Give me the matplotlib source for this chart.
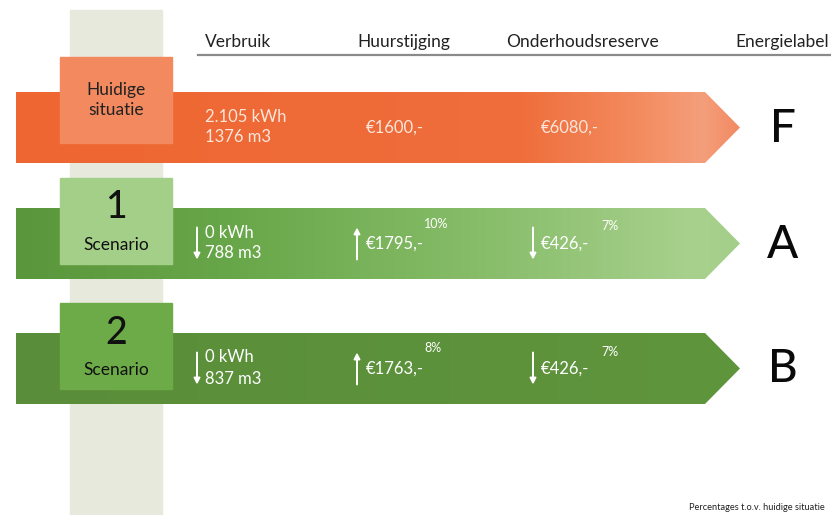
import numpy as np
import matplotlib
matplotlib.use("Agg")
import matplotlib.pyplot as plt
from matplotlib.patches import Polygon, Rectangle
from matplotlib.colors import LinearSegmentedColormap

plt.rcParams['font.family'] = ['Lato', 'DejaVu Sans']

# ---- data ----
row_titles = ["Huidige\nsituatie", "1", "2"]
row_subtitles = ["", "Scenario", "Scenario"]
headers = ["Verbruik", "Huurstijging", "Onderhoudsreserve", "Energielabel"]
verbruik_kwh = ["2.105 kWh", "0 kWh", "0 kWh"]
verbruik_m3 = ["1376 m3", "788 m3", "837 m3"]
huur = ["€1600,-", "€1795,-", "€1763,-"]
huur_pct = ["", "10%", "8%"]
onderhoud = ["€6080,-", "€426,-", "€426,-"]
onderhoud_pct = ["", "7%", "7%"]
energielabel = ["F", "A", "B"]
verbruik_dir = [0, -1, -1]
huur_dir = [0, 1, 1]
onderhoud_dir = [0, -1, -1]
footnote = "Percentages t.o.v. huidige situatie"

# ---- styles / layout ----
W, H = 831, 515
band_tops = [92, 208, 333]
band_h = 71
box_tops = [57, 178, 303]
box_h = 86
box_x0, box_x1 = 60, 172
col_x0, col_x1 = 70, 162
band_x0, shoulder_x, tip_x = 16, 705, 740
box_colors = ["#f2895f", "#a4cf89", "#6cab47"]
band_grads = [
    [(0.0, "#ee6631"), (0.7, "#ef6e3c"), (0.86, "#f38b5f"), (0.95, "#f49f7b"), (1.0, "#f28a63")],
    [(0.0, "#5a963b"), (0.3, "#68a749"), (0.65, "#88bd6a"), (0.94, "#a8d18e"), (1.0, "#a3ce88")],
    [(0.0, "#5a8d39"), (1.0, "#5f953d")],
]
text_colors = ["#fce6da", "white", "white"]
title_sizes = [12.5, 27, 27]

fig = plt.figure(figsize=(W / 100, H / 100), dpi=100)
ax = fig.add_axes([0, 0, 1, 1])
ax.set_xlim(0, W)
ax.set_ylim(H, 0)
ax.axis("off")

# background column
ax.add_patch(Rectangle((col_x0, 10), col_x1 - col_x0, H - 10, color="#e7e9dd", zorder=1))

# headers
header_x = [205, 357, 506, 735]
for hx, ht in zip(header_x, headers):
    ax.text(hx, 42, ht, fontsize=12.5, color="#222222", ha="left", va="center", zorder=5)
ax.plot([198, W], [55, 55], color="#8a8a8a", lw=1.6, zorder=5)

grad = np.linspace(0, 1, 256).reshape(1, -1)
for i in range(3):
    top = band_tops[i]
    bot = top + band_h
    mid = top + band_h / 2
    poly = Polygon([(band_x0, top), (shoulder_x, top), (tip_x, mid),
                    (shoulder_x, bot), (band_x0, bot)], closed=True,
                   facecolor="none", edgecolor="none", zorder=2)
    ax.add_patch(poly)
    cmap = LinearSegmentedColormap.from_list(f"g{i}", band_grads[i])
    im = ax.imshow(grad, cmap=cmap, extent=(band_x0, tip_x, bot, top),
                   aspect="auto", zorder=2, interpolation="bilinear")
    im.set_clip_path(poly)

    # label box
    ax.add_patch(Rectangle((box_x0, box_tops[i]), box_x1 - box_x0, box_h,
                           color=box_colors[i], zorder=3))
    bc = (box_x0 + box_x1) / 2
    if row_subtitles[i]:
        ax.text(bc, box_tops[i] + 30, row_titles[i], fontsize=title_sizes[i],
                ha="center", va="center", color="#111111", zorder=4, fontweight="medium")
        ax.text(bc, box_tops[i] + 67, row_subtitles[i], fontsize=12.5,
                ha="center", va="center", color="#111111", zorder=4)
    else:
        ax.text(bc, box_tops[i] + 43, row_titles[i], fontsize=title_sizes[i],
                ha="center", va="center", color="#222222", zorder=4,
                linespacing=1.25)

    tc = text_colors[i]
    # verbruik
    ax.text(205, mid - 11, verbruik_kwh[i], fontsize=12, color=tc, va="center", zorder=4)
    ax.text(205, mid + 10, verbruik_m3[i], fontsize=12, color=tc, va="center", zorder=4)
    # huur
    ax.text(366, mid, huur[i], fontsize=12, color=tc, va="center", zorder=4)
    if huur_pct[i]:
        ax.text(424, mid - 20, huur_pct[i], fontsize=9, color=tc, va="center", zorder=4)
    # onderhoud
    ax.text(541, mid, onderhoud[i], fontsize=12, color=tc, va="center", zorder=4)
    if onderhoud_pct[i]:
        ax.text(601, mid - 17, onderhoud_pct[i], fontsize=9, color=tc, va="center", zorder=4)

    # direction arrows
    for ax_x, d in ((197, verbruik_dir[i]), (357, huur_dir[i]), (533, onderhoud_dir[i])):
        if d == 0:
            continue
        y_start, y_end = (mid - 16, mid + 16) if d < 0 else (mid + 16, mid - 16)
        ax.annotate("", xy=(ax_x, y_end), xytext=(ax_x, y_start),
                    arrowprops=dict(arrowstyle="-|>,head_length=0.35,head_width=0.18",
                                    color="white", lw=1.4, shrinkA=0, shrinkB=0),
                    zorder=4)

    # energielabel
    ax.text(783, mid + 1, energielabel[i], fontsize=33, ha="center", va="center",
            color="#0a0a0a", zorder=4, fontweight="medium")

ax.text(825, 507, footnote, fontsize=6.7, ha="right", va="center", color="#222222")

fig.savefig("out.png", dpi=100)
